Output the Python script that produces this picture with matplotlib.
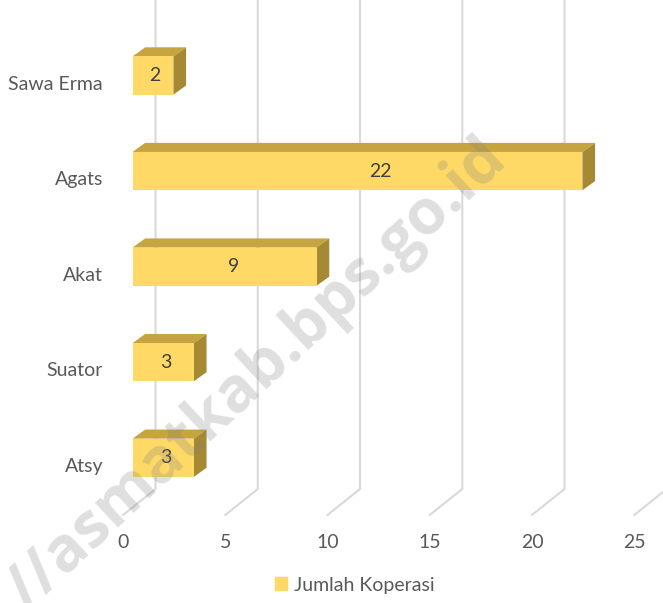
import matplotlib
matplotlib.use("Agg")
import matplotlib.pyplot as plt
from matplotlib.patches import Rectangle, Polygon, Patch

# data (bottom to top)
regions = ['Atsy', 'Suator', 'Akat', 'Agats', 'Sawa Erma']
jumlah = [3, 3, 9, 22, 2]
ticks = [0, 5, 10, 15, 20, 25]
series_name = 'Jumlah Koperasi'

front_col = '#FFD966'
top_col = '#C6A43F'
side_col = '#A68A33'
grid_col = '#D9D9D9'
text_col = '#595959'

plt.rcParams['font.family'] = ['Lato', 'DejaVu Sans']

fig = plt.figure(figsize=(6.63, 6.03), dpi=100)
ax = fig.add_axes([0, 0, 1, 1])
ax.set_xlim(-6.48, 25.94)
ax.set_ylim(-1.52, 4.79)
ax.axis('off')

# 3d-ish geometry in data units
bar_h = 0.40
dx, dy = 0.62, 0.095
back_off, front_off = 1.125, -0.46
floor_back, floor_front = -0.327, -0.598

# gridlines on back wall + floor
for t in ticks:
    ax.plot([t + back_off, t + back_off, t + front_off],
            [4.79, floor_back, floor_front],
            color=grid_col, lw=1.5, zorder=1, solid_joinstyle='miter')
    ax.text(t + front_off, -0.89, str(t), ha='center', va='center',
            fontsize=14, color=text_col)

for i, (name, v) in enumerate(zip(regions, jumlah)):
    y0, y1 = i - bar_h / 2, i + bar_h / 2
    ax.add_patch(Polygon([(0, y1), (v, y1), (v + dx, y1 + dy), (dx, y1 + dy)],
                         closed=True, fc=top_col, ec='none', zorder=3))
    ax.add_patch(Polygon([(v, y0), (v + dx, y0 + dy), (v + dx, y1 + dy), (v, y1)],
                         closed=True, fc=side_col, ec='none', zorder=3))
    ax.add_patch(Rectangle((0, y0), v, bar_h, fc=front_col, ec='none', zorder=4))
    ax.text(v * 0.55, i, str(v), ha='center', va='center', fontsize=14,
            color='#404040', zorder=5)
    ax.text(-1.44, i - 0.09, name, ha='right', va='center', fontsize=14,
            color=text_col)

# watermark
ax.text(6.1, 0.86, '//asmatkab.bps.go.id', rotation=43, ha='center', va='center',
        rotation_mode='anchor', fontsize=45, fontweight='bold',
        family='Open Sans', color='#808080', alpha=0.25, zorder=6)

fig.legend(handles=[Patch(color=front_col, label=series_name)],
           loc='center', bbox_to_anchor=(355 / 663, 1 - 585 / 603),
           frameon=False, fontsize=14, handlelength=0.6, handleheight=0.6,
           handletextpad=0.4, labelcolor=text_col)

fig.savefig('out.png', dpi=100)
